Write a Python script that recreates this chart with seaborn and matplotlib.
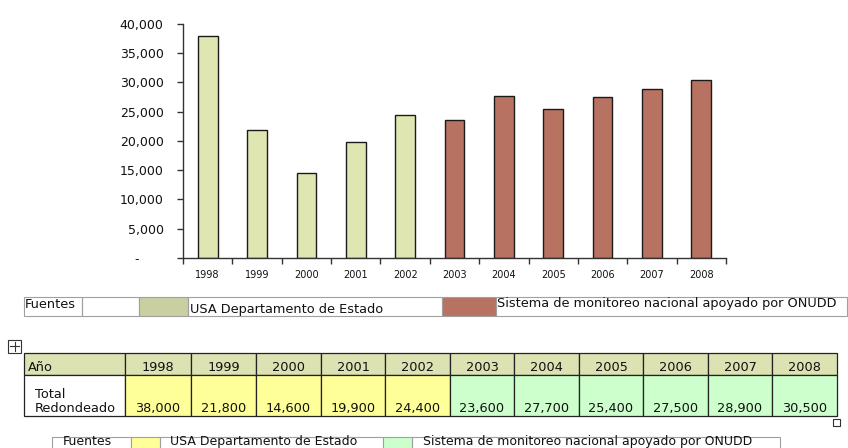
import numpy as np
import pandas as pd
import matplotlib
matplotlib.use("Agg")
import matplotlib.pyplot as plt
import seaborn as sns
from matplotlib.patches import Rectangle
from matplotlib.lines import Line2D
from matplotlib.transforms import Affine2D
from matplotlib.ticker import FuncFormatter, FixedLocator, FixedFormatter, NullFormatter

# ---- data ----
years = ["1998", "1999", "2000", "2001", "2002", "2003", "2004", "2005", "2006", "2007", "2008"]
values = [38000, 21800, 14600, 19900, 24400, 23600, 27700, 25400, 27500, 28900, 30500]
src_usa = "USA Departamento de Estado"
src_onudd = "Sistema de monitoreo nacional apoyado por ONUDD"
sources = [src_usa] * 5 + [src_onudd] * 6
yticks = [0, 5000, 10000, 15000, 20000, 25000, 30000, 35000, 40000]
legend_title = "Fuentes"
table_header = "Año"
table_row_label = "Total\nRedondeado"

df = pd.DataFrame({"Año": years, "Total": values, "Fuente": sources})

W, H = 848, 448
fig = plt.figure(figsize=(W / 100, H / 100), dpi=100)
px = Affine2D().scale(1 / W, -1 / H).translate(0, 1) + fig.transFigure

# ---- bar chart ----
ax_l, ax_r, ax_t, ax_b = 183, 726, 24, 258
ax = fig.add_axes([ax_l / W, 1 - ax_b / H, (ax_r - ax_l) / W, (ax_b - ax_t) / H])
bar_pal = {src_usa: "#E0E6B2", src_onudd: "#B87262"}
sns.barplot(data=df, x="Año", y="Total", hue="Fuente", palette=bar_pal, dodge=False,
            saturation=1, width=0.40, edgecolor="#1a1a1a", linewidth=1.0, legend=False, ax=ax)
ax.set_xlim(-0.5, len(years) - 0.5)
ax.set_ylim(0, 40000)
ax.set_xlabel("")
ax.set_ylabel("")
for s in ["top", "right"]:
    ax.spines[s].set_visible(False)
for s in ["left", "bottom"]:
    ax.spines[s].set_color("#333333")
    ax.spines[s].set_linewidth(1.0)
ax.set_yticks(yticks)
ax.yaxis.set_major_formatter(FuncFormatter(lambda v, p: "-      " if v == 0 else f"{int(v):,}"))
ax.tick_params(axis="y", length=4, width=1, pad=10, labelsize=9, color="#333333", labelcolor="#111111")
ax.xaxis.set_major_locator(FixedLocator(np.arange(-0.5, len(years), 1.0)))
ax.xaxis.set_major_formatter(NullFormatter())
ax.xaxis.set_minor_locator(FixedLocator(np.arange(len(years))))
ax.xaxis.set_minor_formatter(FixedFormatter(years))
ax.tick_params(axis="x", which="major", length=4, width=1, color="#333333")
ax.tick_params(axis="x", which="minor", length=0, pad=9, labelsize=7, labelcolor="#111111")
ax.set_facecolor("none")

FS = 9.3
gray = "#A0A0A0"

def rect(x0, y0, x1, y1, fc="none", ec=gray, lw=0.8, z=1):
    fig.add_artist(Rectangle((x0, y0), x1 - x0, y1 - y0, transform=px, facecolor=fc,
                             edgecolor=ec, linewidth=lw, zorder=z))

def txt(x, y, s, ha="left", va="baseline", fs=FS, **kw):
    fig.text(x, y, s, transform=px, ha=ha, va=va, fontsize=fs, color="#111111", **kw)

# ---- legend row under chart ----
t0, t1 = 297, 316
rect(24, t0, 82, t1)
txt(25, 308, legend_title)
rect(82, t0, 139, t1)
rect(139, t0, 188, t1, fc="#C9CFA0")
rect(188, t0, 442, t1)
txt(190, 313.5, src_usa)
rect(442, t0, 496, t1, fc=bar_pal[src_onudd])
rect(496, t0, 847, t1)
txt(497, 307, src_onudd)

# ---- data table ----
# move handle icon
rect(8, 340, 21, 353, ec="#333333", lw=0.8)
fig.add_artist(Line2D([10, 19], [346.5, 346.5], transform=px, color="#333333", lw=0.8))
fig.add_artist(Line2D([14.5, 14.5], [342, 351], transform=px, color="#333333", lw=0.8))

col_edges = [24, 125, 191, 256, 321, 385, 450, 514, 579, 643, 708, 772, 837]
r0, r1, r2 = 353, 375, 416
cell_col = {src_usa: "#FFFF99", src_onudd: "#CCFFCC"}
rect(col_edges[0], r0, col_edges[1], r1, fc="#DDE2B2", ec="#222222", lw=0.9)
txt(28, 371, table_header)
rect(col_edges[0], r1, col_edges[1], r2, fc="white", ec="#222222", lw=0.9)
txt(35, 398, table_row_label.split("\n")[0])
txt(35, 412, table_row_label.split("\n")[1])
for i, (yr, v, s) in enumerate(zip(years, values, sources)):
    a, b = col_edges[i + 1], col_edges[i + 2]
    rect(a, r0, b, r1, fc="#DDE2B2", ec="#222222", lw=0.9)
    txt((a + b) / 2, 371, yr, ha="center")
    rect(a, r1, b, r2, fc=cell_col[s], ec="#222222", lw=0.9)
    txt((a + b) / 2, 412, f"{v:,}", ha="center")
rect(833, 419, 840, 426, ec="#333333", lw=0.8)

# ---- legend row under table ----
b0, b1 = 437, 452
rect(52, b0, 131, b1)
txt(63, 445, legend_title, fs=9)
rect(131, b0, 160, b1, fc=cell_col[src_usa])
rect(160, b0, 383, b1)
txt(170, 445, src_usa, fs=9)
rect(383, b0, 412, b1, fc=cell_col[src_onudd])
rect(412, b0, 780, b1)
txt(423, 445, src_onudd, fs=9)

fig.savefig("out.png", dpi=100)
